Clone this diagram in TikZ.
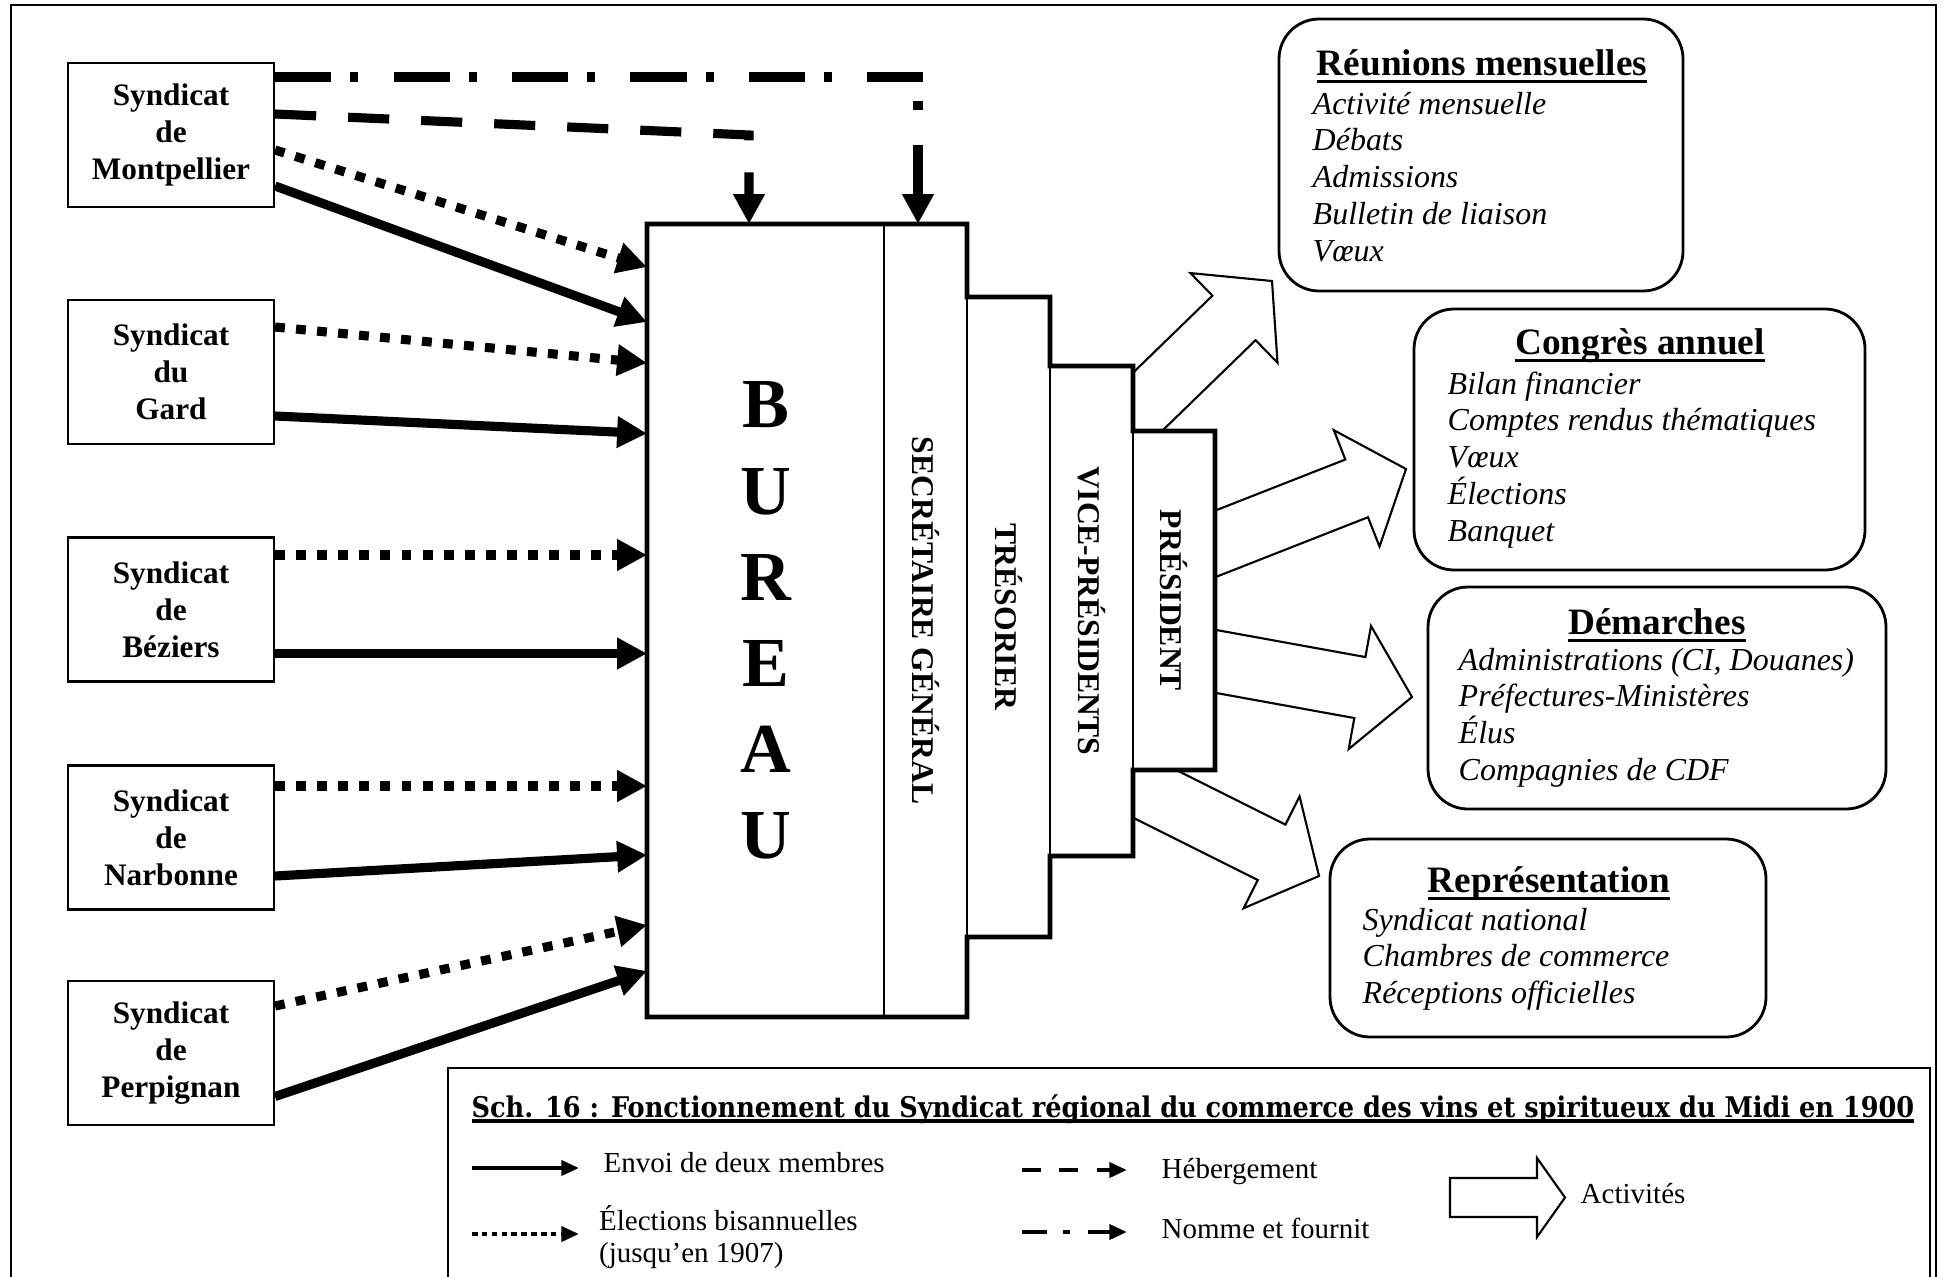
\documentclass[tikz,border=0pt]{standalone}
\usepackage{fontspec}
\setmainfont{Liberation Serif}
\newfontfamily\schfont{DejaVu Serif Condensed}
\usepackage{graphicx}
\usetikzlibrary{calc, arrows.meta}

\newcommand{\actarrow}[2]{%
  \path ($(#2)!0.53cm!(#1)$) coordinate (hb);
  \draw[blockarr] ($(#1)!0.31cm!90:(#2)$) -- ($(hb)!0.31cm!90:(#2)$) -- ($(hb)!0.625cm!90:(#2)$) -- (#2)
    -- ($(hb)!0.625cm!-90:(#2)$) -- ($(hb)!0.31cm!-90:(#2)$) -- ($(#1)!0.31cm!-90:(#2)$) -- cycle;}
\newcommand{\ulbar}[2][1.3pt]{\leavevmode\setbox0\hbox{#2}%
  \rlap{\vrule height -#1 depth \dimexpr#1+0.9pt\relax width \wd0}\box0}

\begin{document}
\begin{tikzpicture}[
    syndbox/.style={draw, line width=0.6pt, minimum width=2.06cm, minimum height=1.44cm, align=center,
      font=\fontsize{8.9}{10.5}\selectfont\bfseries},
    burpart/.style={draw, line width=0.5pt, fill=white, outer sep=0pt, inner sep=0pt,
      font=\fontsize{9}{10.5}\selectfont\bfseries},
    actbox/.style={draw, line width=0.8pt, rounded corners=0.4cm, outer sep=0pt, inner sep=0pt},
    acttitle/.style={anchor=base, inner sep=0pt, font=\fontsize{10.6}{12}\selectfont\bfseries},
    actitem/.style={anchor=base west, inner sep=0pt, font=\fontsize{9.1}{10.5}\selectfont\itshape},
    sendarr/.style={line width=2.6pt, -{Triangle[length=8.5pt,width=8.5pt]}},
    electarr/.style={sendarr, dash pattern=on 2.8pt off 3.2pt},
    hostarr/.style={sendarr, dash pattern=on 11.7pt off 9.1pt},
    namearr/.style={sendarr, dash pattern=on 16pt off 5.4pt on 2.3pt off 10pt},
    blockarr/.style={draw, line width=0.6pt, fill=white, line join=miter},
    legline/.style={line width=1.2pt, -{Triangle[length=5pt,width=4.2pt]}},
    legtext/.style={anchor=base west, inner sep=0pt, font=\fontsize{8.25}{9.3}\selectfont}]
  \useasboundingbox (0,0) rectangle (19.43,-12.76);
  \draw[line width=0.8pt] (0.11,-12.9) -- (0.11,-0.05) -- (19.36,-0.05) -- (19.36,-12.9);

  \node[syndbox] (mtp)  at (1.71,-1.35)  {Syndicat\\de\\Montpellier};
  \node[syndbox] (gard) at (1.71,-3.72)  {Syndicat\\du\\Gard};
  \node[syndbox] (bez)  at (1.71,-6.095) {Syndicat\\de\\Béziers};
  \node[syndbox] (nar)  at (1.71,-8.375) {Syndicat\\de\\Narbonne};
  \node[syndbox] (per)  at (1.71,-10.53) {Syndicat\\de\\Perpignan};

  % activites (queues cachees sous le bureau)
  \coordinate (r1) at (11.00,-4.48); \coordinate (r1t) at (12.72,-2.81);
  \coordinate (c1) at (11.92,-5.53); \coordinate (c1t) at (14.06,-4.69);
  \coordinate (d1) at (11.86,-6.56); \coordinate (d1t) at (14.12,-6.97);
  \coordinate (p1) at (11.13,-7.73); \coordinate (p1t) at (13.19,-8.76);
  \actarrow{r1}{r1t}
  \actarrow{c1}{c1t}
  \actarrow{d1}{d1t}
  \actarrow{p1}{p1t}

  \node[burpart, minimum width=2.37cm, minimum height=7.93cm, align=center,
    font=\fontsize{20}{24.5}\selectfont\bfseries] (bur) at (7.655,-6.205) {B\\U\\R\\E\\A\\U};
  \node[burpart, minimum width=0.83cm, minimum height=7.93cm] (sg)   at (9.255,-6.205) {\rotatebox{-90}{SECRÉTAIRE GÉNÉRAL}};
  \node[burpart, minimum width=0.83cm, minimum height=6.40cm] (tres) at (10.085,-6.17) {\rotatebox{-90}{TRÉSORIER}};
  \node[burpart, minimum width=0.83cm, minimum height=4.90cm] (vp)   at (10.915,-6.11) {\rotatebox{-90}{VICE-PRÉSIDENTS}};
  \node[burpart, minimum width=0.82cm, minimum height=3.39cm] (pres) at (11.74,-6.005) {\rotatebox{-90}{PRÉSIDENT}};
  \draw[line width=1.4pt, line join=miter] (bur.south west) -- (bur.north west) -- (sg.north east) -- (tres.north west)
    -- (tres.north east) -- (vp.north west) -- (vp.north east) -- (pres.north west) -- (pres.north east)
    -- (pres.south east) -- (pres.south west) -- (vp.south east) -- (vp.south west) -- (tres.south east)
    -- (tres.south west) -- (sg.south east) -- cycle;

  \draw[namearr] ([yshift=0.58cm]mtp.east) -| ([xshift=-0.075cm]sg.north);
  \draw[hostarr] ([yshift=0.21cm]mtp.east) -- ([xshift=-0.165cm]bur.north |- mtp.east) -- ([xshift=-0.165cm]bur.north);
  \draw[electarr] ([yshift=-0.15cm]mtp.east)  -- ([yshift=3.535cm]bur.west);
  \draw[sendarr]  ([yshift=-0.51cm]mtp.east)  -- ([yshift=2.985cm]bur.west);
  \draw[electarr] ([yshift=0.45cm]gard.east)  -- ([yshift=2.575cm]bur.west);
  \draw[sendarr]  ([yshift=-0.44cm]gard.east) -- ([yshift=1.87cm]bur.west);
  \draw[electarr] ([yshift=0.545cm]bez.east)  -- ([yshift=0.655cm]bur.west);
  \draw[sendarr]  ([yshift=-0.44cm]bez.east)  -- ([yshift=-0.33cm]bur.west);
  \draw[electarr] ([yshift=0.515cm]nar.east)  -- ([yshift=-1.655cm]bur.west);
  \draw[sendarr]  ([yshift=-0.385cm]nar.east) -- ([yshift=-2.345cm]bur.west);
  \draw[electarr] ([yshift=0.47cm]per.east)   -- ([yshift=-3.045cm]bur.west);
  \draw[sendarr]  ([yshift=-0.435cm]per.east) -- ([yshift=-3.505cm]bur.west);

  \node[actbox, minimum width=4.04cm, minimum height=2.72cm] (reun) at (14.81,-1.55) {};
  \node[acttitle] (reunt) at (14.82,-0.75) {\ulbar{Réunions mensuelles}};
  \foreach \t [count=\i from 0] in {Activité mensuelle, Débats, Admissions, Bulletin de liaison, Vœux}
    \node[actitem] (reun\i) at (13.12,{-1.14-0.368*\i}) {\t};

  \node[actbox, minimum width=4.51cm, minimum height=2.61cm] (cong) at (16.395,-4.395) {};
  \node[acttitle] (congt) at (16.40,-3.54) {\ulbar{Congrès annuel}};
  \foreach \t [count=\i from 0] in {Bilan financier, Comptes rendus thématiques, Vœux, Élections, Banquet}
    \node[actitem] (cong\i) at (14.47,{-3.94-0.368*\i}) {\t};

  \node[actbox, minimum width=4.58cm, minimum height=2.22cm] (dem) at (16.57,-6.98) {};
  \node[acttitle] (demt) at (16.57,-6.34) {\ulbar{Démarches}};
  \foreach \t [count=\i from 0] in {{Administrations (CI, Douanes)}, Préfectures-Ministères, Élus, Compagnies de CDF}
    \node[actitem] (dem\i) at (14.58,{-6.70-0.368*\i}) {\t};

  \node[actbox, minimum width=4.36cm, minimum height=1.98cm] (rep) at (15.48,-9.38) {};
  \node[acttitle] (rept) at (15.49,-8.92) {\ulbar{Représentation}};
  \foreach \t [count=\i from 0] in {Syndicat national, Chambres de commerce, Réceptions officielles}
    \node[actitem] (rep\i) at (13.62,{-9.30-0.368*\i}) {\t};

  % legende
  \draw[line width=0.8pt] (4.48,-12.9) -- (4.48,-10.68) -- (19.30,-10.68) -- (19.30,-12.9);
  \node[anchor=base, inner sep=0pt, font=\schfont\fontsize{8.1}{9.5}\selectfont\bfseries] (legt) at (11.93,-11.17)
    {\ulbar[0.7pt]{Sch. 16 : Fonctionnement du Syndicat régional du commerce des vins et spiritueux du Midi en 1900}};
  \node[legtext] (lg1) at (6.03,-11.72) {Envoi de deux membres};
  \node[legtext, anchor=west, align=left] (lg2) at (5.985,-12.37) {Élections bisannuelles\\(jusqu’en 1907)};
  \node[legtext] (lg3) at (11.61,-11.78) {Hébergement};
  \node[legtext] (lg4) at (11.61,-12.38) {Nomme et fournit};
  \node[legtext] (lg5) at (15.80,-12.03) {Activités};
  \draw[legline] ([xshift=-1.31cm, yshift=0.04cm]lg1.base west) -- ++(1.07,0);
  \draw[legline, dash pattern=on 1.6pt off 1.2pt] ([xshift=-1.265cm, yshift=0.03cm]lg2.west) -- ++(1.07,0);
  \draw[legline, dash pattern=on 5.3pt off 5.3pt] ([xshift=-1.39cm, yshift=0.08cm]lg3.base west) -- ++(1.05,0);
  \draw[legline, dash pattern=on 7.1pt off 4.7pt on 1.8pt off 5.3pt] ([xshift=-1.39cm, yshift=0.06cm]lg4.base west) -- ++(1.05,0);
  \draw[blockarr] (14.50,-11.78) -- (15.37,-11.78) -- (15.37,-11.58) -- (15.65,-11.975) -- (15.37,-12.37)
    -- (15.37,-12.17) -- (14.50,-12.17) -- cycle;
\end{tikzpicture}
\end{document}
